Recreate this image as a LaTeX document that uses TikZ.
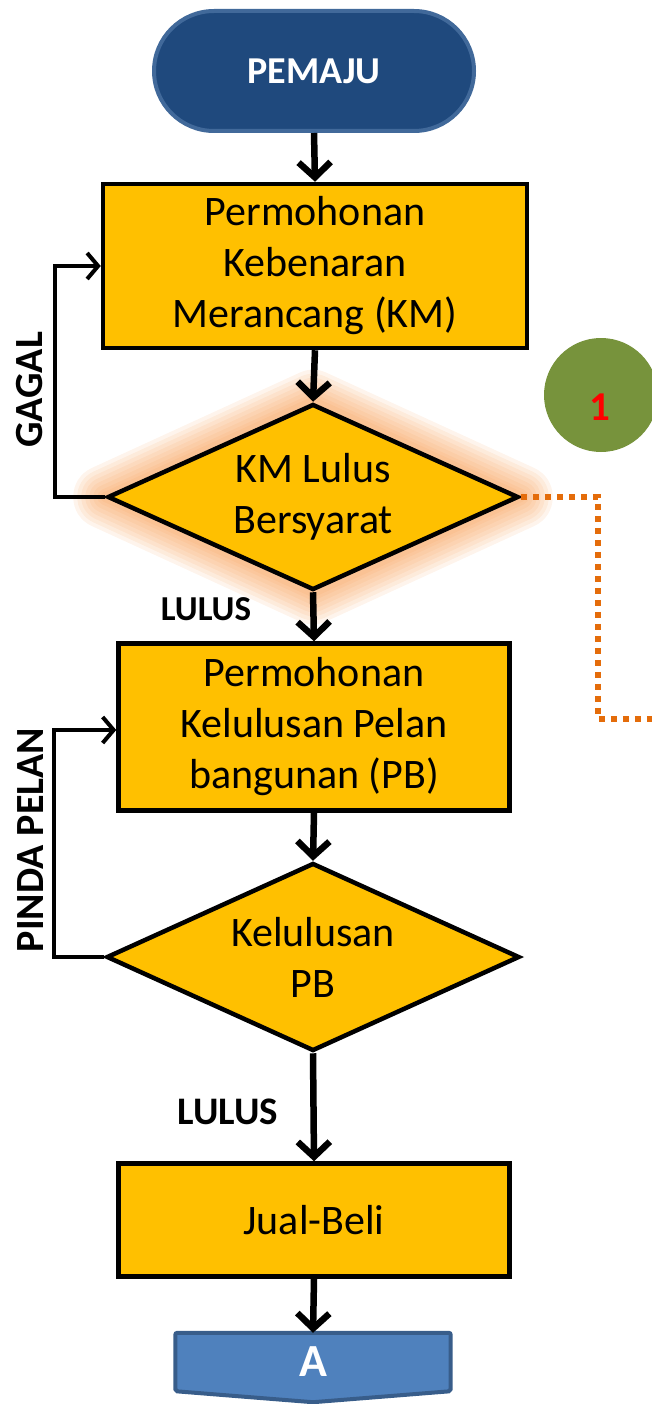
\documentclass[tikz,border=0pt]{standalone}
\usepackage{fontspec}
\setmainfont{Carlito}
\usetikzlibrary{shapes.geometric,arrows.meta,backgrounds,calc}
\definecolor{gold}{HTML}{FFC000}
\definecolor{navy}{HTML}{1F497D}
\definecolor{navyedge}{HTML}{41699A}
\definecolor{steel}{HTML}{4F81BD}
\definecolor{steeledge}{HTML}{385D8A}
\definecolor{olive}{HTML}{77933C}
\definecolor{glowcol}{HTML}{F79646}
\definecolor{dotcol}{HTML}{E46C0A}

\tikzset{
  bodyfont/.style={font=\fontsize{42}{51}\selectfont},
  procbox/.style={draw=black, line width=4.5pt, fill=gold, align=center,
    inner sep=0pt, bodyfont},
  decision/.style={diamond, aspect=2.3, draw=black, line width=4.5pt, fill=gold,
    align=center, inner sep=0pt, bodyfont},
  flow/.style={line width=6.5pt, -{Straight Barb[length=15pt,width=32pt]}},
  backloop/.style={line width=4pt, line join=miter,
    -{Straight Barb[length=11pt,width=26pt]}},
  sidelabel/.style={font=\bfseries\fontsize{40}{48}\selectfont, rotate=90},
}

\begin{document}
\begin{tikzpicture}[x=1pt,y=-1pt]
\useasboundingbox (0,0) rectangle (652,1404);

% start terminal
\node[draw=navyedge, fill=navy, line width=4pt, rounded corners=60pt,
  minimum width=320pt, minimum height=120pt, text=white,
  font=\bfseries\fontsize{38}{44}\selectfont] (start) at (314,71) {PEMAJU};

% process boxes
\node[procbox, minimum width=424pt, minimum height=164pt] (km) at (315,266)
  {\raisebox{-3pt}{\begin{tabular}{@{}c@{}}Permohonan\\Kebenaran\\Merancang (KM)\end{tabular}}};
\node[procbox, minimum width=391pt, minimum height=167pt] (pb) at (314,727)
  {\raisebox{-3pt}{\begin{tabular}{@{}c@{}}Permohonan\\Kelulusan Pelan\\bangunan (PB)\end{tabular}}};
\node[procbox, minimum width=391pt, minimum height=113pt] (jb) at (314,1220)
  {Jual-Beli};

% decisions
\node[decision, minimum width=411pt, minimum height=186pt] (kmok) at (313,497)
  {KM Lulus\\Bersyarat};
\node[decision, minimum width=413pt, minimum height=188pt] (pbok) at (313,957)
  {Kelulusan\\PB};

% orange glow behind the first decision
\begin{scope}[on background layer]
  \foreach \w in {64,56,48,40,32,24,16,10} {
    \draw[glowcol, line width=\w pt, opacity=0.1, line join=round]
      (kmok.north) -- (kmok.east) -- (kmok.south) -- (kmok.west) -- cycle;
  }
\end{scope}

% off-page connector
\node[minimum width=275pt, minimum height=58pt, text=white,
  font=\bfseries\fontsize{46}{50}\selectfont] (offpage) at (313,1362) {A};
\begin{scope}[on background layer]
  \filldraw[fill=steel, draw=steeledge, line width=4pt, rounded corners=2pt]
    (offpage.north west) -- (offpage.north east) -- (offpage.south east)
    -- ($(offpage.south)+(0,11)$) -- (offpage.south west) -- cycle;
\end{scope}

% numbered marker
\node[circle, fill=olive, minimum size=114pt, inner sep=0pt] (mark) at (601,395) {};
\node[text=red, font=\bfseries\fontsize{41}{44}\selectfont] (marknum) at (600,407) {1};

% main flow
\draw[flow] (start.south) -- (km.north);
\draw[flow] (km.south) -- (kmok.north);
\draw[flow] (kmok.south) -- (pb.north);
\draw[flow] (pb.south) -- (pbok.north);
\draw[flow] (pbok.south) -- (jb.north);
\draw[flow] (jb.south) -- (offpage.north);

% return loops
\draw[backloop] (kmok.west) -- ++(-50,0) |- (km.west);
\draw[backloop] (pbok.west) -- ++(-50,0) |- ($(pb.west)+(0,3)$);

% dotted branch leaving the page
\coordinate (turn) at (598,497);
\coordinate (exit) at (660,719);
\draw[dotcol, line width=5.5pt, dash pattern=on 6pt off 6pt]
  (kmok.east) -- (turn) |- (exit);

% labels
\node[sidelabel] (gagal) at (30,390) {GAGAL};
\node[sidelabel] (pinda) at (31,840) {PINDA PELAN};
\node[font=\bfseries\fontsize{35}{40}\selectfont] (lulus1) at (206,609) {LULUS};
\node[font=\bfseries\fontsize{39}{44}\selectfont] (lulus2) at (228,1112) {LULUS};
\end{tikzpicture}
\end{document}
